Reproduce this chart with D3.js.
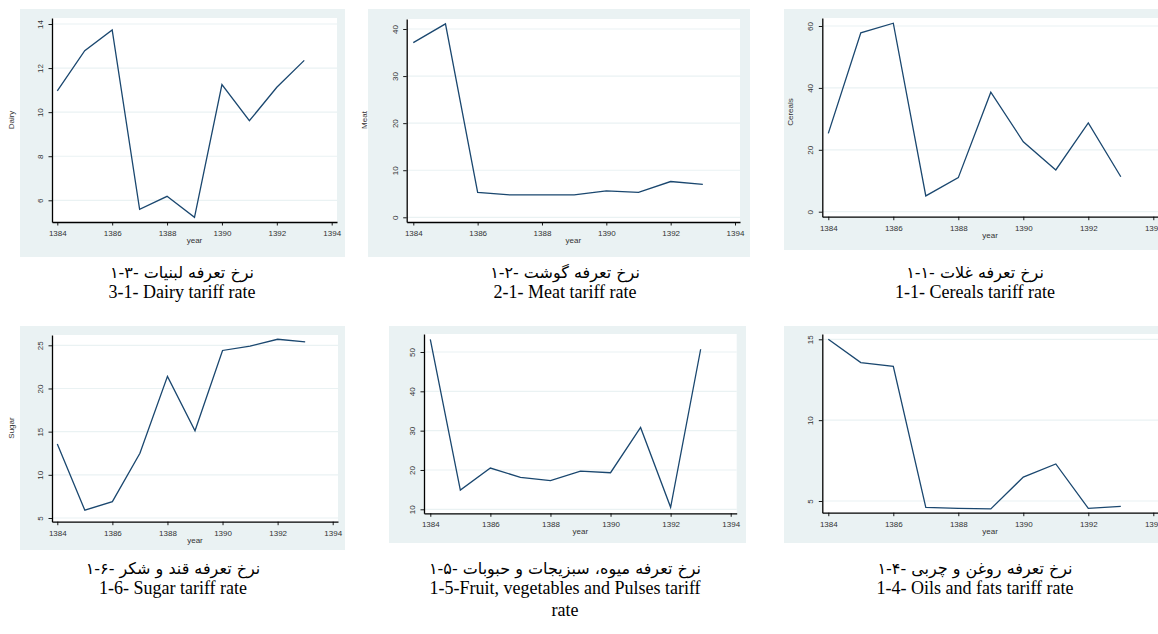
<!DOCTYPE html>
<html>
<head>
<meta charset="utf-8">
<script src="https://cdn.jsdelivr.net/npm/d3@7"></script>
<style>
  html, body { margin: 0; padding: 0; background: #ffffff; }
  svg { display: block; }
  .tick text { font-family: "Liberation Sans", Arial, sans-serif; font-size: 8px; fill: #333; }
</style>
</head>
<body>
<svg id="chart" width="1158" height="634"></svg>
<script>
// ---------------- DATA ----------------
const years = [1384, 1385, 1386, 1387, 1388, 1389, 1390, 1391, 1392, 1393];
const xTickLabels = [1384, 1386, 1388, 1390, 1392, 1394];

const dairy   = [10.97, 12.79, 13.73, 5.59, 6.18, 5.23, 11.25, 9.61, 11.13, 12.35];
const meat    = [37.1, 41.1, 5.3, 4.75, 4.75, 4.75, 5.6, 5.3, 7.6, 7.0];
const cereals = [25.3, 57.8, 60.9, 5.1, 11.0, 38.6, 22.6, 13.5, 28.7, 11.3];
const sugar   = [13.57, 5.9, 6.9, 12.5, 21.4, 15.1, 24.4, 24.9, 25.7, 25.4];
const fruit   = [53.2, 14.9, 20.5, 18.1, 17.3, 19.7, 19.3, 30.8, 10.5, 50.7];
const oils    = [15.0, 13.56, 13.33, 4.61, 4.55, 4.51, 6.48, 7.29, 4.55, 4.67];

const dairyTicks   = [6, 8, 10, 12, 14];
const meatTicks    = [0, 10, 20, 30, 40];
const cerealsTicks = [0, 20, 40, 60];
const sugarTicks   = [5, 10, 15, 20, 25];
const fruitTicks   = [10, 20, 30, 40, 50];
const oilsTicks    = [5, 10, 15];

const yTitles = ["Dairy", "Meat", "Cereals", "Sugar", "", ""];
const xTitle = "year";

const captionNums = ["۱-۳-", "۱-۲-", "۱-۱-", "۱-۶-", "۱-۵-", "۱-۴-"];
const captionsFa = [
  "نرخ تعرفه لبنیات",
  "نرخ تعرفه گوشت",
  "نرخ تعرفه غلات",
  "نرخ تعرفه قند و شکر",
  "نرخ تعرفه میوه، سبزیجات و حبوبات",
  "نرخ تعرفه روغن و چربی"
];
const captionsEn = [
  ["3-1- Dairy tariff rate"],
  ["2-1- Meat tariff rate"],
  ["1-1- Cereals tariff rate"],
  ["1-6- Sugar tariff rate"],
  ["1-5-Fruit, vegetables and Pulses tariff", "rate"],
  ["1-4- Oils and fats tariff rate"]
];

// ---------------- LAYOUT ----------------
const series = [dairy, meat, cereals, sugar, fruit, oils];
const yTickSets = [dairyTicks, meatTicks, cerealsTicks, sugarTicks, fruitTicks, oilsTicks];

const layout = [
  { bg: [20, 9, 345, 257],  plot: [52, 18, 337, 222],     xr: [57.3, 331.7],   yr: [200.3, 24],  yt: [11, 120],  cap: [182, 272] },
  { bg: [368, 9, 750, 257], plot: [406.7, 19, 740, 222],  xr: [413.3, 735],    yr: [217.3, 29],  yt: [364, 120], cap: [565, 272] },
  { bg: [784, 9, 1160, 250], plot: [822.3, 18, 1160, 216.7], xr: [828.3, 1153.3], yr: [211.7, 26], yt: [790, 112], cap: [975, 272] },
  { bg: [20, 326, 345, 550], plot: [52, 335, 338, 521.7], xr: [57.3, 332.7],   yr: [518, 345.3], yt: [11, 428],  cap: [173, 568] },
  { bg: [389, 326, 746, 543], plot: [424, 334, 736.7, 513.3], xr: [430.3, 730.7], yr: [509.3, 352], yt: null, cap: [565, 568] },
  { bg: [784, 326, 1160, 543], plot: [822.3, 334, 1160, 512.7], xr: [828.3, 1153.3], yr: [501, 339.3], yt: null, cap: [975, 568] }
];

const BG = "#eaf2f3";
const LINE = "#1a476f";
const GRID = "#eaf2f3";

const svg = d3.select("#chart");

layout.forEach((L, i) => {
  const vals = series[i];
  const ticks = yTickSets[i];
  const [px0, py0, px1, py1] = L.plot;

  const x0 = d3.scaleLinear().domain([1384, 1394]).range(L.xr);
  const x = d3.scaleLinear().domain([x0.invert(px0), x0.invert(px1)]).range([px0, px1]);
  const y0 = d3.scaleLinear().domain([ticks[0], ticks[ticks.length - 1]]).range(L.yr);
  const y = d3.scaleLinear().domain([y0.invert(py1), y0.invert(py0)]).range([py1, py0]);

  const g = svg.append("g");

  g.append("rect")
    .attr("x", L.bg[0]).attr("y", L.bg[1])
    .attr("width", L.bg[2] - L.bg[0]).attr("height", L.bg[3] - L.bg[1])
    .attr("fill", BG);

  g.append("rect")
    .attr("x", px0).attr("y", py0)
    .attr("width", px1 - px0).attr("height", py1 - py0)
    .attr("fill", "#ffffff");

  g.append("g").selectAll("line").data(ticks).join("line")
    .attr("x1", px0).attr("x2", px1)
    .attr("y1", d => y(d)).attr("y2", d => y(d))
    .attr("stroke", GRID).attr("stroke-width", 1.2);

  const line = d3.line().x((d, k) => x(years[k])).y(d => y(d));
  g.append("path")
    .datum(vals)
    .attr("d", line)
    .attr("fill", "none")
    .attr("stroke", LINE)
    .attr("stroke-width", 1.3)
    .attr("stroke-linejoin", "miter");

  const ya = g.append("g")
    .attr("transform", `translate(${px0},0)`)
    .call(d3.axisLeft(y).tickValues(ticks).tickSize(3.5).tickSizeOuter(0).tickFormat(d3.format("d")));
  ya.select(".domain").attr("stroke", "#000").attr("stroke-width", 1.3);
  ya.selectAll(".tick line").attr("stroke", "#000").attr("stroke-width", 0.9);
  ya.selectAll(".tick text")
    .attr("x", 0).attr("dy", 0)
    .attr("text-anchor", "middle")
    .attr("transform", "translate(-9,0) rotate(-90)");

  const xa = g.append("g")
    .attr("transform", `translate(0,${py1})`)
    .call(d3.axisBottom(x).tickValues(xTickLabels).tickSize(3.5).tickSizeOuter(0).tickPadding(5).tickFormat(d3.format("d")));
  xa.select(".domain").attr("stroke", "#000").attr("stroke-width", 1.3);
  xa.selectAll(".tick line").attr("stroke", "#000").attr("stroke-width", 0.9);

  g.append("text")
    .attr("x", (px0 + Math.min(px1, 1158)) / 2)
    .attr("y", py1 + 21)
    .attr("text-anchor", "middle")
    .attr("font-family", "Liberation Sans, Arial, sans-serif")
    .attr("font-size", 8)
    .attr("fill", "#333")
    .text(xTitle);

  if (L.yt && yTitles[i]) {
    g.append("text")
      .attr("transform", `translate(${L.yt[0] + 3},${L.yt[1]}) rotate(-90)`)
      .attr("text-anchor", "middle")
      .attr("font-family", "Liberation Sans, Arial, sans-serif")
      .attr("font-size", 8)
      .attr("fill", "#333")
      .text(yTitles[i]);
  }

  // Persian caption: figure number placed on the left, Persian words to its right
  const capY = L.cap[1] + 6;
  const numT = g.append("text")
    .attr("y", capY)
    .attr("text-anchor", "start")
    .attr("font-family", "DejaVu Sans, sans-serif")
    .attr("font-size", 16)
    .attr("fill", "#000")
    .text(captionNums[i]);
  const faT = g.append("text")
    .attr("y", capY)
    .attr("text-anchor", "start")
    .attr("font-family", "DejaVu Sans, sans-serif")
    .attr("font-size", 16)
    .attr("fill", "#000")
    .text(captionsFa[i]);
  const w1 = numT.node().getComputedTextLength();
  const w2 = faT.node().getComputedTextLength();
  const gap = 5;
  const sx = L.cap[0] - (w1 + gap + w2) / 2;
  numT.attr("x", sx);
  faT.attr("x", sx + w1 + gap);

  captionsEn[i].forEach((t, k) => {
    g.append("text")
      .attr("x", L.cap[0]).attr("y", L.cap[1] + 26 + k * 22)
      .attr("text-anchor", "middle")
      .attr("font-family", "Liberation Serif, Times New Roman, serif")
      .attr("font-size", 18)
      .attr("fill", "#000")
      .text(t);
  });
});
</script>
</body>
</html>
